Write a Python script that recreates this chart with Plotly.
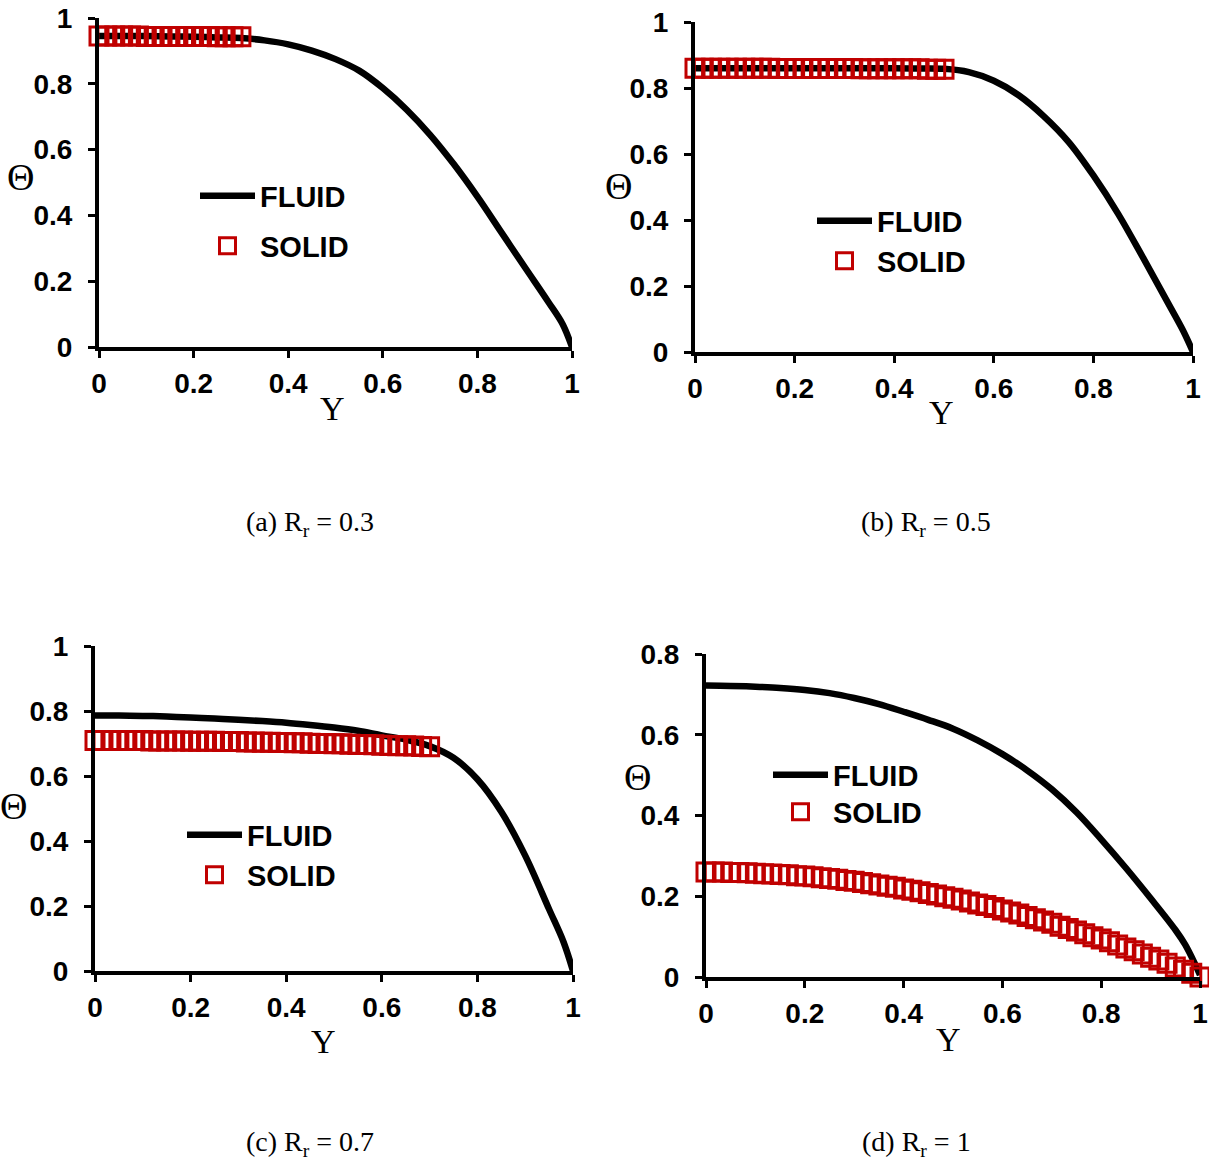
import plotly.graph_objects as go

# ---------------- data ----------------
Y_GRID = [0, 0.0167, 0.0333, 0.05, 0.0667, 0.0833, 0.1, 0.1167, 0.1333, 0.15,
          0.1667, 0.1833, 0.2, 0.2167, 0.2333, 0.25, 0.2667, 0.2833, 0.3, 0.3167,
          0.3333, 0.35, 0.3667, 0.3833, 0.4, 0.4167, 0.4333, 0.45, 0.4667, 0.4833,
          0.5, 0.5167, 0.5333, 0.55, 0.5667, 0.5833, 0.6, 0.6167, 0.6333, 0.65,
          0.6667, 0.6833, 0.7, 0.7167, 0.7333, 0.75, 0.7667, 0.7833, 0.8, 0.8167,
          0.8333, 0.85, 0.8667, 0.8833, 0.9, 0.9167, 0.9333, 0.95, 0.9667, 0.9833, 1.0]

SOLID_A = [0.945, 0.945, 0.945, 0.945, 0.945, 0.945, 0.944, 0.944, 0.944, 0.944,
           0.944, 0.944, 0.944, 0.944, 0.944, 0.943, 0.943, 0.943, 0.943]
SOLID_B = [0.860, 0.860, 0.860, 0.860, 0.860, 0.860, 0.860, 0.860, 0.860, 0.860,
           0.859, 0.859, 0.859, 0.859, 0.859, 0.859, 0.859, 0.859, 0.859, 0.859,
           0.858, 0.858, 0.858, 0.858, 0.858, 0.858, 0.858, 0.858, 0.857, 0.857, 0.857]
SOLID_C = [0.709, 0.709, 0.709, 0.709, 0.709, 0.709, 0.709, 0.708, 0.708, 0.708,
           0.708, 0.708, 0.707, 0.707, 0.707, 0.707, 0.706, 0.706, 0.706, 0.705,
           0.705, 0.704, 0.704, 0.703, 0.703, 0.702, 0.702, 0.701, 0.700, 0.700,
           0.699, 0.699, 0.698, 0.697, 0.697, 0.696, 0.695, 0.694, 0.693, 0.693,
           0.692, 0.691, 0.690]
SOLID_D = [0.260, 0.260, 0.260, 0.259, 0.259, 0.258, 0.257, 0.256, 0.255, 0.254,
           0.253, 0.251, 0.250, 0.248, 0.246, 0.244, 0.242, 0.239, 0.237, 0.234,
           0.231, 0.228, 0.225, 0.222, 0.218, 0.215, 0.211, 0.207, 0.203, 0.199,
           0.195, 0.191, 0.186, 0.181, 0.177, 0.172, 0.166, 0.161, 0.156, 0.150,
           0.144, 0.139, 0.133, 0.126, 0.120, 0.114, 0.107, 0.100, 0.094, 0.087,
           0.079, 0.072, 0.065, 0.057, 0.049, 0.042, 0.034, 0.025, 0.017, 0.009, 0.000]

Y_FLUID = [0, 0.05, 0.1, 0.15, 0.2, 0.25, 0.3, 0.35, 0.4, 0.45, 0.5, 0.55,
           0.6, 0.65, 0.7, 0.75, 0.8, 0.85, 0.9, 0.95, 0.98, 1.0]
FLUID_A = [0.945, 0.945, 0.945, 0.944, 0.943, 0.941, 0.939, 0.932, 0.920, 0.901, 0.875,
           0.840, 0.787, 0.722, 0.645, 0.556, 0.457, 0.350, 0.243, 0.137, 0.070, 0.0]
FLUID_B = [0.860, 0.860, 0.860, 0.860, 0.860, 0.860, 0.860, 0.860, 0.860, 0.859, 0.858,
           0.848, 0.822, 0.778, 0.715, 0.637, 0.535, 0.418, 0.285, 0.148, 0.065, 0.0]
FLUID_C = [0.786, 0.786, 0.785, 0.783, 0.780, 0.777, 0.773, 0.769, 0.764, 0.757, 0.749,
           0.739, 0.725, 0.712, 0.692, 0.656, 0.590, 0.490, 0.355, 0.190, 0.090, 0.0]
Y_FLUID_D = [0, 0.05, 0.1, 0.15, 0.2, 0.25, 0.3, 0.35, 0.4, 0.45, 0.5, 0.55,
             0.6, 0.65, 0.7, 0.75, 0.8, 0.85, 0.9, 0.95, 0.97, 0.99, 1.0]
FLUID_D = [0.722, 0.721, 0.719, 0.716, 0.711, 0.703, 0.691, 0.676, 0.657, 0.637, 0.615,
           0.586, 0.552, 0.512, 0.465, 0.408, 0.341, 0.270, 0.195, 0.117, 0.080, 0.032, 0.005]

X_TICKS = [0, 0.2, 0.4, 0.6, 0.8, 1]
X_TICK_LABELS = ["0", "0.2", "0.4", "0.6", "0.8", "1"]
Y_TICKS = [0, 0.2, 0.4, 0.6, 0.8, 1]
Y_TICK_LABELS = ["0", "0.2", "0.4", "0.6", "0.8", "1"]
Y_TICKS_D = [0, 0.2, 0.4, 0.6, 0.8]
Y_TICK_LABELS_D = ["0", "0.2", "0.4", "0.6", "0.8"]

CAPTIONS = ["(a) R<sub>r</sub> = 0.3", "(b) R<sub>r</sub> = 0.5",
            "(c) R<sub>r</sub> = 0.7", "(d) R<sub>r</sub> = 1"]

# ---------------- layout helpers ----------------
W, H = 1209, 1164
RED = "#C00000"

def px_x(p):
    return p / W

def px_y(p):
    return 1 - p / H

PANELS = [
    dict(x0=99, x1=572, yt=18, yb=347, ymax=1.0, yticks=Y_TICKS, ylabels=Y_TICK_LABELS,
         yf=Y_FLUID, fluid=FLUID_A, solid=SOLID_A,
         leg_f=(261, 196), leg_s=(261, 246), theta=(20, 177), ylab=(332, 408), cap=(310, 523)),
    dict(x0=695, x1=1193, yt=22, yb=352, ymax=1.0, yticks=Y_TICKS, ylabels=Y_TICK_LABELS,
         yf=Y_FLUID, fluid=FLUID_B, solid=SOLID_B,
         leg_f=(878, 221), leg_s=(878, 261), theta=(618, 186), ylab=(941, 412), cap=(926, 523)),
    dict(x0=95, x1=573, yt=646, yb=971, ymax=1.0, yticks=Y_TICKS, ylabels=Y_TICK_LABELS,
         yf=Y_FLUID, fluid=FLUID_C, solid=SOLID_C,
         leg_f=(248, 835), leg_s=(248, 875), theta=(13, 806), ylab=(324, 1041), cap=(310, 1143)),
    dict(x0=706, x1=1200, yt=654, yb=977, ymax=0.8, yticks=Y_TICKS_D, ylabels=Y_TICK_LABELS_D,
         yf=Y_FLUID_D, fluid=FLUID_D, solid=SOLID_D,
         leg_f=(834, 775), leg_s=(834, 812), theta=(637, 777), ylab=(948, 1039), cap=(916, 1143)),
]

TICK_FONT = dict(family="Liberation Sans, Arial, sans-serif", size=28, color="black", weight="bold")
LEG_FONT = dict(family="Liberation Sans, Arial, sans-serif", size=29, color="black", weight="bold")
SERIF = "Liberation Serif, Times New Roman, serif"

fig = go.Figure()
layout = dict(
    width=W, height=H,
    margin=dict(l=0, r=0, t=0, b=0, pad=0, autoexpand=False),
    paper_bgcolor="white", plot_bgcolor="white",
    showlegend=True,
    annotations=[],
)

for i, p in enumerate(PANELS):
    n = i + 1
    xa = "x" if n == 1 else f"x{n}"
    ya = "y" if n == 1 else f"y{n}"
    xkey = "xaxis" if n == 1 else f"xaxis{n}"
    ykey = "yaxis" if n == 1 else f"yaxis{n}"
    lf = "legend" if n == 1 else f"legend{2 * n - 1}"
    ls = f"legend{2 * n}"
    nsolid = len(p["solid"])

    fig.add_trace(go.Scatter(
        x=p["yf"], y=p["fluid"], mode="lines", name="FLUID",
        line=dict(color="black", width=6.5, shape="spline", smoothing=1.0),
        xaxis=xa, yaxis=ya, legend=lf, cliponaxis=False, showlegend=True,
    ))
    fig.add_trace(go.Scatter(
        x=Y_GRID[:nsolid], y=p["solid"], mode="markers", name="SOLID",
        marker=dict(symbol="square-open", size=18, color=RED, line=dict(width=3, color=RED)),
        xaxis=xa, yaxis=ya, legend=ls, cliponaxis=False, showlegend=True,
    ))

    layout[xkey] = dict(
        domain=[px_x(p["x0"]), px_x(p["x1"])], range=[0, 1], anchor=ya,
        showline=True, linewidth=4, linecolor="black", mirror=False,
        ticks="outside", ticklen=7, tickwidth=3, tickcolor="black",
        tickvals=X_TICKS, ticktext=X_TICK_LABELS, tickfont=TICK_FONT,
        ticklabelstandoff=1, automargin=False,
        showgrid=False, zeroline=False, fixedrange=True,
    )
    layout[ykey] = dict(
        domain=[px_y(p["yb"]), px_y(p["yt"])], range=[0, p["ymax"]], anchor=xa,
        showline=True, linewidth=4, linecolor="black", mirror=False,
        ticks="outside", ticklen=7, tickwidth=3, tickcolor="black",
        tickvals=p["yticks"], ticktext=p["ylabels"], tickfont=TICK_FONT,
        ticklabelstandoff=10, automargin=False,
        showgrid=False, zeroline=False, fixedrange=True,
    )
    layout[lf] = dict(x=px_x(p["leg_f"][0] - 66), y=px_y(p["leg_f"][1]),
                      xanchor="left", yanchor="middle", bgcolor="rgba(0,0,0,0)",
                      font=LEG_FONT, itemwidth=55, borderwidth=0, tracegroupgap=0)
    layout[ls] = dict(x=px_x(p["leg_s"][0] - 66), y=px_y(p["leg_s"][1]),
                      xanchor="left", yanchor="middle", bgcolor="rgba(0,0,0,0)",
                      font=LEG_FONT, itemwidth=55, borderwidth=0, tracegroupgap=0)

    layout["annotations"] += [
        dict(x=px_x(p["theta"][0]), y=px_y(p["theta"][1]), xref="paper", yref="paper",
             text="Θ", showarrow=False, xanchor="center", yanchor="middle",
             font=dict(family=SERIF, size=38, color="black")),
        dict(x=px_x(p["ylab"][0]), y=px_y(p["ylab"][1]), xref="paper", yref="paper",
             text="Y", showarrow=False, xanchor="center", yanchor="middle",
             font=dict(family=SERIF, size=34, color="black")),
        dict(x=px_x(p["cap"][0]), y=px_y(p["cap"][1]), xref="paper", yref="paper",
             text=CAPTIONS[i], showarrow=False, xanchor="center", yanchor="middle",
             font=dict(family=SERIF, size=28, color="black")),
    ]

fig.update_layout(**layout)
fig.write_html("out.html")
